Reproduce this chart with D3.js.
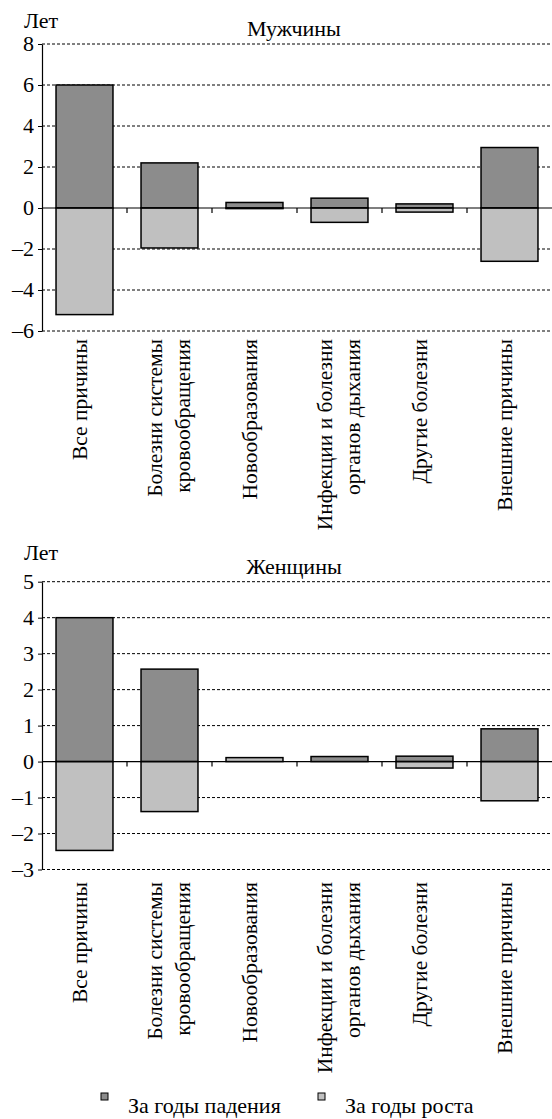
<!DOCTYPE html>
<html>
<head>
<meta charset="utf-8">
<script src="https://cdn.jsdelivr.net/npm/d3@7"></script>
</head>
<body style="margin:0">
<svg id="chart" width="552" height="1119"></svg>
<script>
const categories = [
  ["Все причины"],
  ["Болезни системы", "кровообращения"],
  ["Новообразования"],
  ["Инфекции и болезни", "органов дыхания"],
  ["Другие болезни"],
  ["Внешние причины"]
];
const seriesNames = ["За годы падения", "За годы роста"];
const seriesColors = ["#8c8c8c", "#c0c0c0"];

// Мужчины
const menFall = [6.0, 2.2, 0.27, 0.48, 0.2, 2.95];
const menGrowth = [-5.2, -1.95, -0.03, -0.7, -0.2, -2.6];
const menTicks = [8, 6, 4, 2, 0, -2, -4, -6];

// Женщины
const womenFall = [4.0, 2.57, 0, 0.14, 0.15, 0.91];
const womenGrowth = [-2.47, -1.39, 0.11, 0, -0.18, -1.09];
const womenTicks = [5, 4, 3, 2, 1, 0, -1, -2, -3];

const svg = d3.select("#chart");
const fmt = v => v < 0 ? "–" + Math.abs(v) : String(v);

// все подписи кладём прямо в корень svg
const texts = [];
function addText(t) { texts.push(t); }

function drawPanel(opts) {
  const { fall, growth, ticks, title, top, bottom, unitY, titleY, labelTop } = opts;
  const x0 = 42, x1 = 552;
  const g = svg.append("g");

  const x = d3.scaleBand()
    .domain(d3.range(categories.length))
    .range([x0, x1])
    .paddingInner(0.33)
    .paddingOuter(0.165);

  const y = d3.scaleLinear()
    .domain([d3.min(ticks), d3.max(ticks)])
    .range([bottom, top]);

  // сетка
  g.append("g")
    .selectAll("line")
    .data(ticks.filter(t => t !== 0))
    .join("line")
    .attr("x1", x0).attr("x2", x1)
    .attr("y1", d => y(d)).attr("y2", d => y(d))
    .attr("stroke", "#000").attr("stroke-width", 1)
    .attr("stroke-dasharray", "3 2");

  // столбцы
  const rows = categories.map((c, i) => ({ i, fall: fall[i], growth: growth[i] }));
  const stack = d3.stack().keys(["fall", "growth"]).offset(d3.stackOffsetDiverging);
  const layers = stack(rows);

  g.selectAll("g.layer")
    .data(layers)
    .join("g")
    .attr("class", "layer")
    .attr("fill", (d, k) => seriesColors[k])
    .selectAll("rect")
    .data(d => d.filter(p => p[1] - p[0] !== 0))
    .join("rect")
    .attr("x", d => x(d.data.i))
    .attr("width", x.bandwidth())
    .attr("y", d => y(Math.max(d[0], d[1])))
    .attr("height", d => Math.abs(y(d[0]) - y(d[1])))
    .attr("stroke", "#000").attr("stroke-width", 1.5);

  // нулевая линия и засечки категорий
  g.append("line")
    .attr("x1", x0).attr("x2", x1)
    .attr("y1", y(0)).attr("y2", y(0))
    .attr("stroke", "#000").attr("stroke-width", 1.2);

  const step = x.step();
  g.selectAll("line.ctick")
    .data(d3.range(1, categories.length))
    .join("line")
    .attr("class", "ctick")
    .attr("x1", i => x0 + i * step).attr("x2", i => x0 + i * step)
    .attr("y1", y(0)).attr("y2", y(0) + 5)
    .attr("stroke", "#000").attr("stroke-width", 1.2);

  // ось Y (только линии; подписи отдельно)
  const yAxis = d3.axisLeft(y).tickValues(ticks).tickSize(4).tickSizeOuter(0).tickFormat("");
  const ax = g.append("g").attr("transform", `translate(${x0},0)`).call(yAxis);
  ax.select(".domain").attr("stroke", "#000").attr("stroke-width", 1.2);
  ax.selectAll(".tick line").attr("stroke", "#000");
  ax.selectAll(".tick text").remove();

  ticks.forEach(t => addText({ x: x0 - 8, y: y(t), dy: "0.32em", anchor: "end", size: 22, text: fmt(t) }));

  addText({ x: 24, y: unitY, size: 22, text: "Лет" });
  addText({ x: 294, y: titleY, anchor: "middle", size: 22, text: title });

  // подписи категорий (повернутые)
  const lh = 28;
  categories.forEach((lines, i) => {
    const cx = x(i) + x.bandwidth() / 2;
    const n = lines.length;
    lines.forEach((line, j) => {
      const off = (j - (n - 1) / 2) * lh + (n > 1 ? 6.5 : 2.5);
      addText({
        x: 0, y: off, anchor: "end", size: 21.5, text: line,
        transform: `translate(${cx},${labelTop}) rotate(-90)`
      });
    });
  });
}

drawPanel({
  fall: menFall, growth: menGrowth, ticks: menTicks, title: "Мужчины",
  top: 44, bottom: 331, unitY: 28, titleY: 36, labelTop: 339
});

drawPanel({
  fall: womenFall, growth: womenGrowth, ticks: womenTicks, title: "Женщины",
  top: 581.7, bottom: 869.5, unitY: 560, titleY: 574, labelTop: 882
});

// легенда
const legendX = [101, 318];
seriesNames.forEach((name, k) => {
  svg.append("rect")
    .attr("x", legendX[k]).attr("y", 1093)
    .attr("width", 7).attr("height", 7)
    .attr("fill", seriesColors[k])
    .attr("stroke", "#000").attr("stroke-width", 1);
  addText({ x: legendX[k] + 27, y: 1113, size: 22, text: name });
});

svg.selectAll("text.lbl")
  .data(texts)
  .join("text")
  .attr("class", "lbl")
  .attr("x", d => d.x).attr("y", d => d.y)
  .attr("dy", d => d.dy || null)
  .attr("text-anchor", d => d.anchor || "start")
  .attr("transform", d => d.transform || null)
  .style("font-family", () => "'Liberation Serif'")
  .attr("font-size", d => d.size)
  .text(d => d.text);
</script>
</body>
</html>
